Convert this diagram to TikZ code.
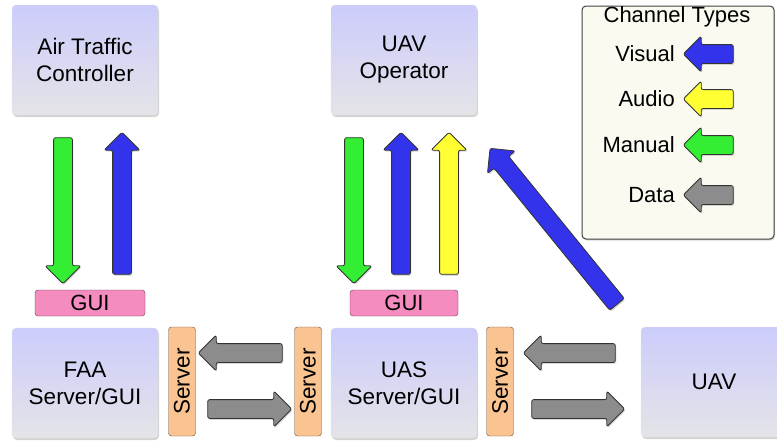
\documentclass[tikz,border=0pt]{standalone}
\usepackage{fontspec}
\setmainfont{Liberation Sans}
\usetikzlibrary{shapes.arrows,shadows,calc}

\definecolor{boxtop}{RGB}{204,204,252}
\definecolor{boxbot}{RGB}{228,228,232}
\definecolor{chblue}{RGB}{51,51,235}
\definecolor{chyellow}{RGB}{255,255,51}
\definecolor{chgreen}{RGB}{51,238,51}
\definecolor{chgray}{RGB}{140,140,140}
\definecolor{guipink}{RGB}{245,140,192}
\definecolor{srvorange}{RGB}{250,196,146}
\definecolor{legendbg}{RGB}{250,250,240}

\begin{document}
\begin{tikzpicture}
  [x=1pt,y=-1pt,
   box/.style={rectangle,rounded corners=4pt,top color=boxtop,bottom color=boxbot,draw=black!12,
     minimum width=146pt,minimum height=110pt,align=center,font=\fontsize{22.5}{27}\selectfont,
     drop shadow={opacity=.35,shadow xshift=1pt,shadow yshift=-2pt}},
   gui/.style={rectangle,rounded corners=3pt,fill=guipink,draw=black!60!guipink,
     minimum height=26pt,inner sep=0pt,font=\fontsize{22}{24}\selectfont},
   srv/.style={rectangle,rounded corners=3pt,fill=srvorange,draw=black!60!srvorange,rotate=90,
     minimum width=109pt,minimum height=27pt,inner sep=0pt,font=\fontsize{22.5}{24}\selectfont},
   lbl/.style={font=\fontsize{22}{24}\selectfont,inner sep=0pt},
   arr/.style={single arrow,single arrow head extend=8.5pt,single arrow head indent=0pt,
     inner sep=0pt,text height=18pt,text depth=0pt,minimum width=0pt,rounded corners=2pt,
     draw=black!80,line width=.8pt,
     drop shadow={opacity=.3,shadow xshift=1pt,shadow yshift=-1.5pt}},
   chan/.style={to path={let \p1=($(\tikztotarget)-(\tikztostart)$),\n1={veclen(\x1,\y1)} in
     -- (\tikztotarget) node[arr,fill=#1,midway,sloped,allow upside down,minimum height=\n1] {}}}]

  \useasboundingbox (0,0) rectangle (777,440);

  % boxes
  \node[box] (atc) at (85,60) {Air Traffic\\Controller};
  \node[box] (op) at (404,60) {UAV\\Operator};
  \node[box] (faa) at (85,383) {FAA\\Server/GUI};
  \node[box] (uas) at (404,383) {UAS\\Server/GUI};
  \node[box] (uav) at (714,382) {UAV};

  \node[gui,minimum width=110pt] (gui1) at (90,303) {GUI};
  \node[gui,minimum width=108pt] (gui2) at (404,303) {GUI};

  \node[srv] (srv1) at (182,381.5) {Server};
  \node[srv] (srv2) at (308,381.5) {Server};
  \node[srv] (srv3) at (500,381.5) {Server};

  % legend
  \node[rectangle,rounded corners=4pt,fill=legendbg,draw=black!75,line width=1pt,
    minimum width=192pt,minimum height=233pt,
    drop shadow={opacity=.3,shadow xshift=1pt,shadow yshift=-1.5pt}] (legend) at (678,122.5) {};
  \node[lbl] (title) at (677,17) {Channel Types};
  \node[lbl,anchor=east] (lvis) at (675,54) {Visual};
  \node[lbl,anchor=east] (laud) at (675,99) {Audio};
  \node[lbl,anchor=east] (lman) at (675,145) {Manual};
  \node[lbl,anchor=east] (ldat) at (675,195) {Data};

  % arrow ends
  \coordinate (atcdn-s) at (63,133);   \coordinate (atcdn-e) at (63,279);
  \coordinate (atcup-s) at (122,279);  \coordinate (atcup-e) at (122,137);
  \coordinate (opdn-s) at (354,133);   \coordinate (opdn-e) at (354,279);
  \coordinate (opup-s) at (401,279);   \coordinate (opup-e) at (401,137);
  \coordinate (opau-s) at (449,279);   \coordinate (opau-e) at (449,137);
  \coordinate (uavvis-s) at (620,308); \coordinate (uavvis-e) at (493,152);
  \coordinate (faain-s) at (287,353);  \coordinate (faain-e) at (203,353);
  \coordinate (faaout-s) at (203,409); \coordinate (faaout-e) at (287,409);
  \coordinate (uasin-s) at (620,353);  \coordinate (uasin-e) at (528,353);
  \coordinate (uasout-s) at (527,409); \coordinate (uasout-e) at (620,409);

  \path (atcdn-s) to[chan=chgreen] (atcdn-e);
  \path (atcup-s) to[chan=chblue] (atcup-e);
  \path (opdn-s) to[chan=chgreen] (opdn-e);
  \path (opup-s) to[chan=chblue] (opup-e);
  \path (opau-s) to[chan=chyellow] (opau-e);
  \path (uavvis-s) to[chan=chblue] (uavvis-e);
  \path (faain-s) to[chan=chgray] (faain-e);
  \path (faaout-s) to[chan=chgray] (faaout-e);
  \path (uasin-s) to[chan=chgray] (uasin-e);
  \path (uasout-s) to[chan=chgray] (uasout-e);

  % legend arrows
  \path ($(lvis.east)+(63,0)$) to[chan=chblue] ($(lvis.east)+(13,0)$);
  \path ($(laud.east)+(63,0)$) to[chan=chyellow] ($(laud.east)+(13,0)$);
  \path ($(lman.east)+(63,0)$) to[chan=chgreen] ($(lman.east)+(13,0)$);
  \path ($(ldat.east)+(63,0)$) to[chan=chgray] ($(ldat.east)+(13,0)$);
\end{tikzpicture}
\end{document}
